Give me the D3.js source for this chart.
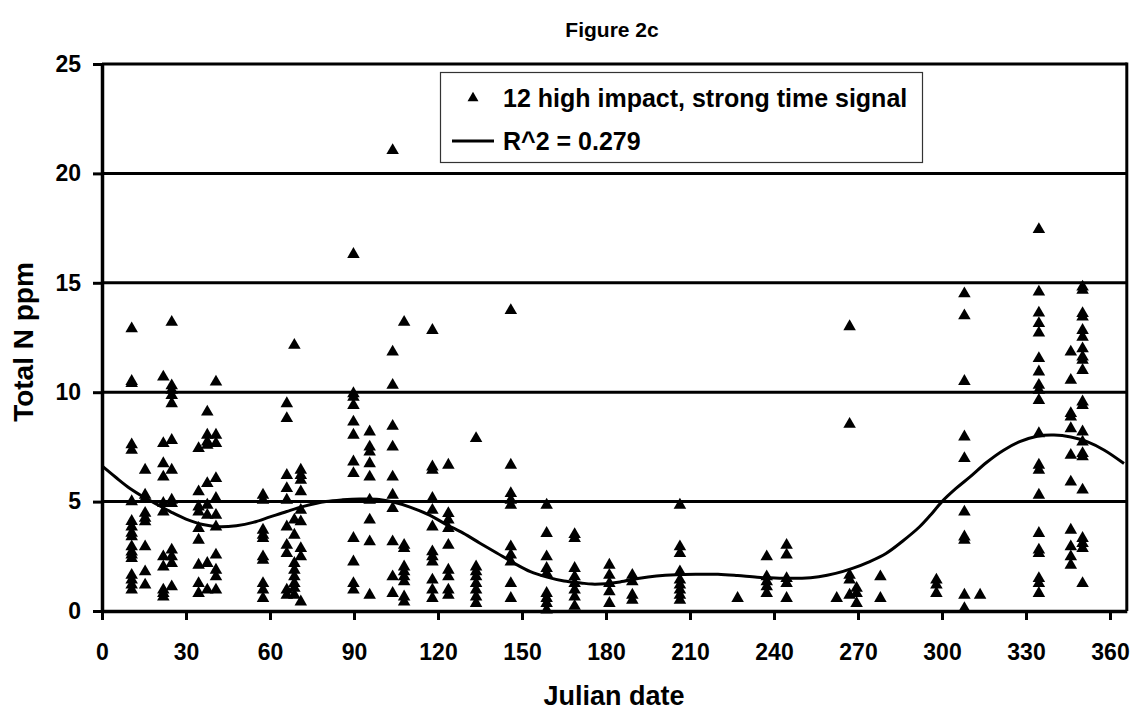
<!DOCTYPE html>
<html>
<head>
<meta charset="utf-8">
<script src="https://cdn.jsdelivr.net/npm/d3@7"></script>
<style>
  body { margin: 0; background: #fff; }
  text { font-family: Arial, "Liberation Sans", sans-serif; font-weight: bold; fill: #000; }
</style>
</head>
<body>
<div id="chart"></div>
<script>
// sampling dates (Julian day) and the Total N readings at each date
const sampleDays = [10.6, 15.4, 21.9, 24.9, 34.5, 37.6, 40.7, 57.5, 66, 68.7, 71,
  89.8, 95.6, 103.8, 107.9, 118, 123.7, 133.6, 146, 158.8, 168.8, 181.2, 189.4,
  206.4, 227, 237.4, 244.5, 262.4, 267, 269.5, 278, 298, 308, 313.6, 334.6, 346, 350.2];

const sampleValues = [
  [12.9, 10.5, 10.4, 7.6, 7.35, 5.0, 4.1, 3.85, 3.56, 3.4, 2.94, 2.7, 2.56, 2.4, 1.64, 1.42, 1.19, 0.96],
  [6.44, 5.3, 5.15, 4.47, 4.25, 4.08, 2.94, 1.8, 1.19],
  [10.7, 7.66, 6.74, 6.13, 4.92, 4.53, 2.48, 2.02, 0.96, 0.81, 0.65],
  [13.2, 10.3, 10.1, 9.86, 9.48, 7.8, 6.44, 5.07, 4.92, 2.79, 2.48, 2.18, 1.11],
  [7.43, 5.45, 4.76, 4.53, 3.78, 3.24, 2.1, 1.26, 0.81],
  [9.1, 8.04, 7.73, 7.58, 5.83, 4.84, 4.38, 2.18, 0.96],
  [10.47, 8.04, 7.66, 6.06, 5.15, 4.38, 3.85, 2.56, 1.87, 1.57, 0.96],
  [5.3, 5.07, 3.7, 3.47, 3.32, 2.48, 2.33, 1.26, 0.96, 0.58],
  [9.48, 8.8, 6.2, 5.6, 5.07, 3.85, 3.01, 2.63, 0.96, 0.73],
  [12.15, 4.16, 3.47, 2.18, 1.87, 1.57, 1.26, 1.04, 0.73],
  [6.44, 6.2, 5.98, 5.45, 4.61, 4.08, 2.86, 2.48, 0.42],
  [16.3, 9.94, 9.78, 9.4, 8.64, 8.04, 6.82, 6.29, 3.32, 2.25, 1.26, 0.96],
  [8.19, 7.5, 7.27, 6.74, 6.13, 5.07, 4.16, 3.17, 0.73],
  [21.05, 11.84, 10.32, 8.45, 7.5, 6.13, 5.3, 4.69, 3.17, 1.57, 0.81],
  [13.2, 3.01, 2.86, 2.02, 1.8, 1.57, 1.34, 0.65, 0.42],
  [12.83, 6.59, 6.44, 5.15, 4.61, 3.85, 2.71, 2.48, 2.25, 1.42, 0.96, 0.58],
  [6.67, 4.46, 4.16, 3.78, 3.01, 1.87, 1.57, 0.96, 0.73],
  [7.89, 2.02, 1.8, 1.57, 1.26, 0.96, 0.65, 0.35],
  [13.74, 6.67, 5.37, 5.07, 4.84, 2.94, 2.56, 2.25, 1.26, 0.58],
  [4.84, 3.55, 2.48, 1.95, 1.72, 0.81, 0.58, 0.35, 0.05],
  [3.5, 3.32, 1.95, 1.57, 1.26, 0.96, 0.65, 0.22],
  [2.1, 1.64, 1.26, 0.88, 0.35],
  [1.64, 1.34, 0.73, 0.5],
  [4.84, 2.94, 2.63, 1.8, 1.42, 1.19, 0.96, 0.73, 0.5],
  [0.58],
  [2.48, 1.57, 1.34, 1.11, 0.81],
  [3.01, 2.56, 1.49, 1.26, 0.58],
  [0.58],
  [13.0, 8.54, 1.64, 1.42, 0.73],
  [1.04, 0.81, 0.35],
  [1.57, 0.58],
  [1.42, 1.19, 0.81],
  [14.5, 13.5, 10.5, 7.96, 6.97, 4.53, 3.39, 3.24, 0.73, 0.12],
  [0.73],
  [17.44, 14.58, 13.62, 13.14, 12.71, 11.54, 10.93, 10.32, 10.09, 9.63, 8.11, 6.67, 6.44, 5.3, 3.55, 2.79, 2.63, 1.49, 1.26, 0.81],
  [11.84, 10.55, 9.03, 8.87, 8.34, 7.12, 5.9, 3.7, 2.94, 2.48, 2.1],
  [14.81, 14.66, 13.6, 13.44, 12.83, 12.52, 11.99, 11.61, 11.46, 11.0, 9.56, 9.4, 8.19, 7.73, 7.2, 7.05, 5.53, 3.32, 3.09, 2.86, 1.26]
];

// fitted curve
const trendDays = [0, 5, 10, 15, 20, 25, 30, 36, 42, 48, 54, 60, 66, 72, 80, 86, 92, 99, 104, 110,
  117, 123, 129, 135, 141, 147, 153, 159, 165, 171, 175, 180, 185, 192, 198, 205, 212, 220, 227,
  234, 242, 250, 256, 262, 268, 274, 280, 286, 292, 296, 300, 305, 310, 316, 322, 328, 334, 340,
  346, 352, 358, 365];
const trendValues = [6.63, 6.1, 5.6, 5.2, 4.85, 4.5, 4.2, 3.95, 3.85, 3.9, 4.05, 4.3, 4.55, 4.78, 5.0,
  5.08, 5.12, 5.1, 4.98, 4.75, 4.38, 3.95, 3.56, 3.1, 2.65, 2.2, 1.8, 1.55, 1.37, 1.28, 1.23, 1.25,
  1.33, 1.5, 1.6, 1.66, 1.68, 1.68, 1.62, 1.54, 1.5, 1.5, 1.57, 1.72, 1.95, 2.25, 2.63, 3.2, 3.85,
  4.4, 5.0, 5.6, 6.13, 6.8, 7.35, 7.75, 7.99, 8.04, 7.95, 7.73, 7.35, 6.74];

const xTicks = d3.range(0, 361, 30);
const yTicks = [0, 5, 10, 15, 20, 25];

const W = 1139, H = 719;
const svg = d3.select("#chart").append("svg").attr("width", W).attr("height", H);

const x = d3.scaleLinear().domain([0, 366]).range([102, 1126.8]);
const y = d3.scaleLinear().domain([0, 25]).range([611, 64]);

// horizontal gridlines
svg.append("g").selectAll("line").data(yTicks.slice(1)).join("line")
  .attr("x1", x(0)).attr("x2", x(366))
  .attr("y1", d => y(d)).attr("y2", d => y(d))
  .attr("stroke", "#000").attr("stroke-width", 3);

// right frame
svg.append("line")
  .attr("x1", x(366)).attr("x2", x(366)).attr("y1", y(25) - 1.5).attr("y2", y(0))
  .attr("stroke", "#000").attr("stroke-width", 3);

// axes
const yAxis = svg.append("g").attr("transform", `translate(${x(0)},0)`)
  .call(d3.axisLeft(y).tickValues(yTicks).tickSize(9).tickPadding(12).tickSizeOuter(0));
const xAxis = svg.append("g").attr("transform", `translate(0,${y(0)})`)
  .call(d3.axisBottom(x).tickValues(xTicks).tickSize(9).tickPadding(24).tickSizeOuter(0));

[yAxis, xAxis].forEach(a => {
  a.select(".domain").attr("stroke", "#000").attr("stroke-width", 3.5);
  a.selectAll(".tick line").attr("stroke", "#000").attr("stroke-width", 3);
  a.selectAll(".tick text").style("font-size", "23px").style("font-family", "Arial, 'Liberation Sans', sans-serif")
    .style("font-weight", "bold").attr("fill", "#000");
});

// points
const tri = d3.symbol().type(d3.symbolTriangle).size(68);
const pts = sampleDays.flatMap((d, i) => sampleValues[i].map(v => ({ day: d, val: v })));
svg.append("g").selectAll("path").data(pts).join("path")
  .attr("d", tri)
  .attr("transform", d => `translate(${x(d.day)},${y(d.val)})`)
  .attr("fill", "#000");

// trend line
const line = d3.line().x(d => x(d[0])).y(d => y(d[1])).curve(d3.curveCatmullRom);
svg.append("path")
  .datum(trendDays.map((d, i) => [d, trendValues[i]]))
  .attr("d", line)
  .attr("fill", "none").attr("stroke", "#000").attr("stroke-width", 3);

// legend
const lg = svg.append("g");
lg.append("rect").attr("x", 440.5).attr("y", 72.5).attr("width", 482).attr("height", 90)
  .attr("fill", "#fff").attr("stroke", "#333").attr("stroke-width", 1.2);
lg.append("path").attr("d", d3.symbol().type(d3.symbolTriangle).size(52))
  .attr("transform", "translate(473,98)").attr("fill", "#000");
lg.append("line").attr("x1", 452).attr("x2", 494).attr("y1", 141).attr("y2", 141)
  .attr("stroke", "#000").attr("stroke-width", 3);
lg.append("text").attr("x", 503).attr("y", 107).style("font-size", "25px")
  .text("12 high impact, strong time signal");
lg.append("text").attr("x", 503).attr("y", 150).style("font-size", "25px")
  .text("R^2 = 0.279");

// titles
svg.append("text").attr("x", 612).attr("y", 37).attr("text-anchor", "middle")
  .style("font-size", "21px").text("Figure 2c");
svg.append("text").attr("x", 614).attr("y", 705).attr("text-anchor", "middle")
  .style("font-size", "27px").text("Julian date");
svg.append("text").attr("transform", "translate(33,342) rotate(-90)").attr("text-anchor", "middle")
  .style("font-size", "28px").text("Total N ppm");
</script>
</body>
</html>
